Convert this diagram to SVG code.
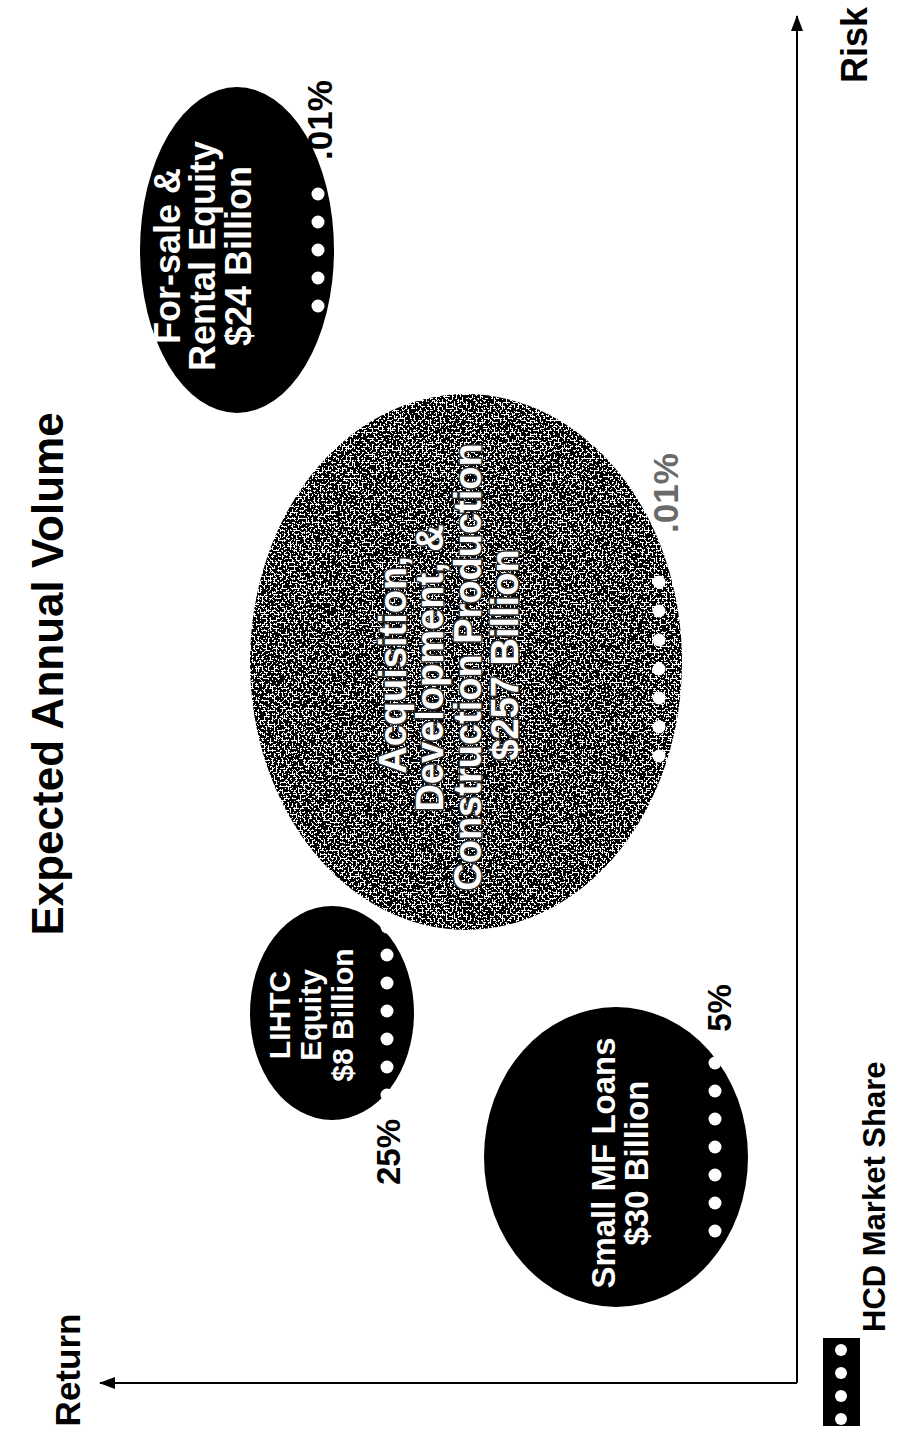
<svg xmlns="http://www.w3.org/2000/svg" width="912" height="1432" viewBox="0 0 912 1432">
<style>
text{font-family:"Liberation Sans",Arial,sans-serif;font-weight:bold;text-anchor:middle}
.w{fill:#fff}
.k{fill:#000}
.gt{fill:#fff;stroke:#2a2a2a;stroke-width:3;paint-order:stroke;stroke-linejoin:round}
.dot{fill:#fff}
.ax{stroke:#000;stroke-width:2;fill:none}
</style>
<defs>
<marker id="ah" viewBox="0 0 16 12" refX="15" refY="6" markerWidth="16" markerHeight="12" markerUnits="userSpaceOnUse" orient="auto">
<path d="M0,0 L16,6 L0,12 Z" fill="#000"/>
</marker>
<filter id="grain" x="0%" y="0%" width="100%" height="100%">
<feTurbulence type="fractalNoise" baseFrequency="0.5" numOctaves="2" seed="7" result="t"/>
<feColorMatrix in="t" type="matrix" values="1 0 0 0 0  1 0 0 0 0  1 0 0 0 0  0 0 0 0 1" result="g"/>
<feComponentTransfer in="g" result="bw"><feFuncR type="discrete" tableValues="0 0 0 0 0 0 0 0 0 0 0 1 1 1 1 1 1 1 1 1 1"/><feFuncG type="discrete" tableValues="0 0 0 0 0 0 0 0 0 0 0 1 1 1 1 1 1 1 1 1 1"/><feFuncB type="discrete" tableValues="0 0 0 0 0 0 0 0 0 0 0 1 1 1 1 1 1 1 1 1 1"/></feComponentTransfer>
<feComposite in="bw" in2="SourceGraphic" operator="in"/>
</filter>
</defs>
<rect width="912" height="1432" fill="#fff"/>

<g id="connectors">
<path class="ax" d="M797,1383 L100,1383" marker-end="url(#ah)"/>
<path class="ax" d="M797,1383 L797,16" marker-end="url(#ah)"/>
</g>

<g id="title"><text transform="translate(63,674) rotate(-90)" font-size="44" class="k">Expected Annual Volume</text></g>
<g id="axis-return"><text transform="translate(80,1370) rotate(-90)" font-size="35" class="k">Return</text></g>
<g id="axis-risk"><text transform="translate(867,45) rotate(-90)" font-size="36" class="k">Risk</text></g>

<g id="node-forsale">
<ellipse cx="237" cy="250" rx="97" ry="163" fill="#000"/>
<g class="dot"><circle cx="318" cy="194" r="6.5"/><circle cx="318" cy="222" r="6.5"/><circle cx="318" cy="250" r="6.5"/><circle cx="318" cy="278" r="6.5"/><circle cx="318" cy="306" r="6.5"/></g>
<text transform="translate(180,256) rotate(-90)" font-size="36" class="w">For-sale &amp;</text>
<text transform="translate(215,256) rotate(-90)" font-size="36" class="w">Rental Equity</text>
<text transform="translate(251,256) rotate(-90)" font-size="36" class="w">$24 Billion</text>
<text transform="translate(332,120) rotate(-90)" font-size="35" class="k">.01%</text>
</g>

<g id="node-adc">
<ellipse cx="466" cy="662" rx="216" ry="268" fill="#000" filter="url(#grain)"/>
<g class="dot"><circle cx="659" cy="582" r="6.5"/><circle cx="659" cy="611" r="6.5"/><circle cx="659" cy="640" r="6.5"/><circle cx="659" cy="669" r="6.5"/><circle cx="659" cy="698" r="6.5"/><circle cx="659" cy="727" r="6.5"/><circle cx="659" cy="756" r="6.5"/></g>
<text transform="translate(406,665) rotate(-90)" font-size="38" class="gt">Acquisition,</text>
<text transform="translate(443,668) rotate(-90)" font-size="38" class="gt">Development, &amp;</text>
<text transform="translate(481,667) rotate(-90)" font-size="38" class="gt">Construction Production</text>
<text transform="translate(518,655) rotate(-90)" font-size="38" class="gt">$257 Billion</text>
<text transform="translate(678,493) rotate(-90)" font-size="35" fill="#6a6a6a" font-weight="normal">.01%</text>
</g>

<g id="node-lihtc">
<ellipse cx="332" cy="1013" rx="82" ry="107" fill="#000"/>
<g class="dot"><circle cx="387" cy="927" r="6.5"/><circle cx="387" cy="955" r="6.5"/><circle cx="387" cy="983" r="6.5"/><circle cx="387" cy="1011" r="6.5"/><circle cx="387" cy="1039" r="6.5"/><circle cx="387" cy="1067" r="6.5"/><circle cx="387" cy="1095" r="6.5"/></g>
<text transform="translate(290,1015) rotate(-90)" font-size="30" class="w">LIHTC</text>
<text transform="translate(321,1015) rotate(-90)" font-size="30" class="w">Equity</text>
<text transform="translate(353,1015) rotate(-90)" font-size="30" class="w">$8 Billion</text>
<text transform="translate(400,1152) rotate(-90)" font-size="33" class="k">25%</text>
</g>

<g id="node-smallmf">
<ellipse cx="616" cy="1157" rx="132" ry="150" fill="#000"/>
<g class="dot"><circle cx="715" cy="1063" r="6.5"/><circle cx="715" cy="1091" r="6.5"/><circle cx="715" cy="1119" r="6.5"/><circle cx="715" cy="1147" r="6.5"/><circle cx="715" cy="1175" r="6.5"/><circle cx="715" cy="1203" r="6.5"/><circle cx="715" cy="1231" r="6.5"/></g>
<text transform="translate(615,1163) rotate(-90)" font-size="33" class="w">Small MF Loans</text>
<text transform="translate(648,1163) rotate(-90)" font-size="33" class="w">$30 Billion</text>
<text transform="translate(731,1008) rotate(-90)" font-size="33" class="k">5%</text>
</g>

<g id="legend">
<rect x="823" y="1338" width="37" height="88" fill="#000"/>
<g class="dot"><circle cx="841" cy="1350" r="6"/><circle cx="841" cy="1373" r="6"/><circle cx="841" cy="1396" r="6"/><circle cx="841" cy="1419" r="6"/></g>
<text transform="translate(885,1332) rotate(-90)" font-size="31" class="k" style="text-anchor:start">HCD Market Share</text>
</g>
</svg>
